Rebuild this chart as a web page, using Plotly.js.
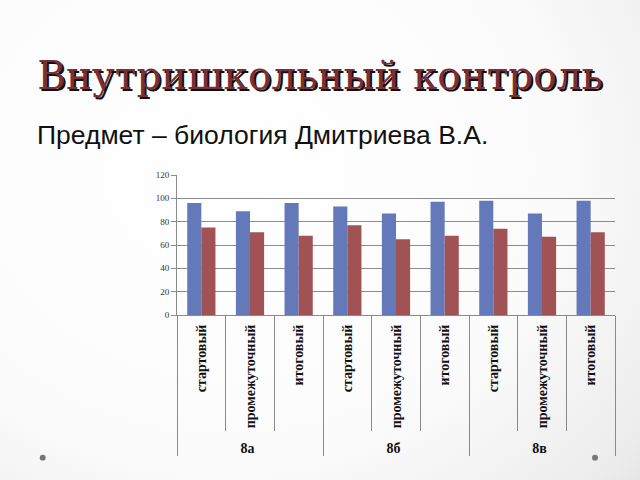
<!DOCTYPE html>
<html>
<head>
<meta charset="utf-8">
<script src="https://cdn.plot.ly/plotly-3.0.1.min.js"></script>
<style>
  html, body { margin: 0; padding: 0; }
  body {
    width: 640px; height: 480px; overflow: hidden;
    background: radial-gradient(ellipse 95% 110% at 35% 35%, #ffffff 0%, #fbfbfb 55%, #ececec 85%, #dcdcdc 100%);
  }
  #chart { width: 640px; height: 480px; }
</style>
</head>
<body>
<div id="chart"></div>
<script>
// classes and control stages
const classes = ['8а', '8а', '8а', '8б', '8б', '8б', '8в', '8в', '8в'];
const stages = ['стартовый', 'промежуточный', 'итоговый',
                'стартовый', 'промежуточный', 'итоговый',
                'стартовый', 'промежуточный', 'итоговый'];

// two series
const series1 = [96, 89, 96, 93, 87, 97, 98, 87, 98];
const series2 = [75, 71, 68, 77, 65, 68, 74, 67, 71];

const yTicks = [0, 20, 40, 60, 80, 100, 120];

const serif = 'Liberation Serif, Times New Roman, serif';

Plotly.newPlot('chart', [
    {
        type: 'bar',
        x: [classes, stages],
        y: series1,
        marker: { color: '#6379ba' },
        hoverinfo: 'y'
    },
    {
        type: 'bar',
        x: [classes, stages],
        y: series2,
        marker: { color: '#a15254' },
        hoverinfo: 'y'
    }
], {
    width: 640,
    height: 480,
    paper_bgcolor: 'rgba(0,0,0,0)',
    plot_bgcolor: 'rgba(0,0,0,0)',
    margin: { l: 177, r: 25, t: 175, b: 165 },
    showlegend: false,
    barmode: 'group',
    bargap: 0.42,
    bargroupgap: 0,
    title: {
        text: 'Внутришкольный контроль',
        x: 0.5, xanchor: 'center',
        y: 0.843, yanchor: 'middle',
        font: { family: 'DejaVu Serif, serif', size: 39, color: '#7a2f36', shadow: '2px 2px 0px #111' }
    },
    annotations: [{
        text: 'Предмет – биология Дмитриева В.А.',
        xref: 'paper', yref: 'paper',
        x: -0.325, y: 1.286,
        xanchor: 'left', yanchor: 'middle',
        showarrow: false,
        font: { family: 'Liberation Sans, sans-serif', size: 26.5, color: '#111' }
    }],
    shapes: [
        { type: 'circle', xref: 'paper', yref: 'paper',
          x0: -0.3134, x1: -0.2998, y0: -1.040, y1: -0.998,
          fillcolor: '#777', line: { width: 0 } },
        { type: 'circle', xref: 'paper', yref: 'paper',
          x0: 0.9475, x1: 0.9612, y0: -1.040, y1: -0.998,
          fillcolor: '#777', line: { width: 0 } }
    ],
    xaxis: {
        type: 'multicategory',
        tickangle: -90,
        tickson: 'boundaries',
        ticks: 'outside',
        ticklen: 115,
        ticklabelstandoff: 3,
        tickcolor: '#8a8a8a',
        tickwidth: 1,
        showdividers: true,
        dividercolor: '#8a8a8a',
        dividerwidth: 1,
        showline: true,
        linecolor: '#8a8a8a',
        linewidth: 1,
        showgrid: false,
        tickfont: { family: serif, size: 14, color: '#111', weight: 'bold' }
    },
    yaxis: {
        range: [0, 120],
        tickvals: yTicks,
        ticks: 'outside',
        ticklen: 5,
        tickcolor: '#8a8a8a',
        showline: true,
        linecolor: '#8a8a8a',
        showgrid: true,
        gridcolor: '#8c8c8c',
        gridwidth: 1,
        zeroline: false,
        tickfont: { family: serif, size: 9, color: '#333' }
    }
}, { displayModeBar: false, staticPlot: true });
</script>
</body>
</html>
